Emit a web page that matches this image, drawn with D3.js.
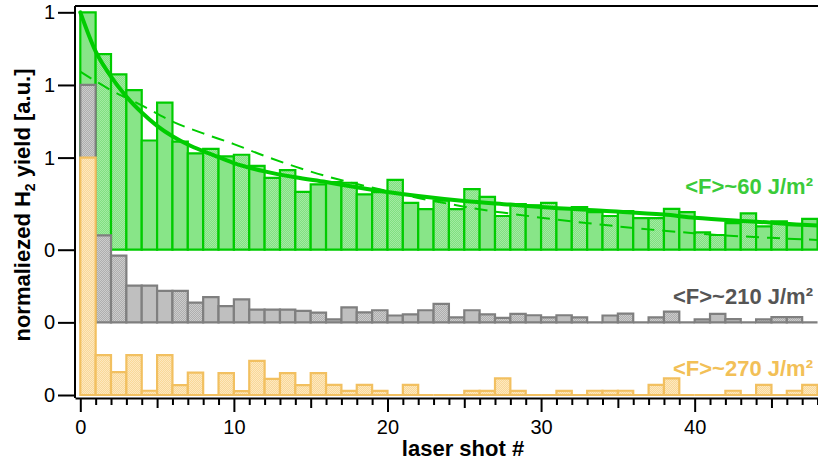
<!DOCTYPE html>
<html>
<head>
<meta charset="utf-8">
<script src="https://cdn.jsdelivr.net/npm/d3@7/dist/d3.min.js"></script>
<style>
  body { margin: 0; background: #fff; }
  svg { display: block; font-family: "Liberation Sans", Arial, sans-serif; }
</style>
</head>
<body>
<svg id="chart" width="818" height="464"></svg>
<script>
// shot numbers, one bar per shot (bar i spans i..i+1)
const shots = d3.range(0, 48);

// normalized H2 yield per shot
const yield60 = [1.0, 0.824, 0.739, 0.672, 0.46, 0.62, 0.455, 0.406, 0.425, 0.393,
  0.40, 0.353, 0.303, 0.335, 0.244, 0.275, 0.285, 0.282, 0.233, 0.243,
  0.294, 0.197, 0.171, 0.207, 0.171, 0.255, 0.223, 0.142, 0.192, 0.187,
  0.197, 0.172, 0.18, 0.158, 0.142, 0.163, 0.133, 0.133, 0.172, 0.158,
  0.073, 0.062, 0.112, 0.153, 0.098, 0.12, 0.103, 0.13];

const yield210 = [1.0, 0.366, 0.281, 0.155, 0.155, 0.133, 0.133, 0.083, 0.106, 0.068,
  0.097, 0.054, 0.054, 0.054, 0.048, 0.041, 0.013, 0.063, 0.042, 0.051,
  0.029, 0.034, 0.051, 0.078, 0.021, 0.051, 0.034, 0.019, 0.036, 0.03,
  0.021, 0.03, 0.021, 0, 0.029, 0.037, 0, 0.021, 0.045, 0,
  0.013, 0.036, 0.014, 0, 0.013, 0.022, 0.022, 0];

const yield270 = [1.0, 0.168, 0.096, 0.168, 0.018, 0.168, 0.042, 0.094, 0, 0.092,
  0.016, 0.144, 0.068, 0.092, 0.042, 0.092, 0.043, 0.017, 0.043, 0.017,
  0, 0.043, 0, 0, 0, 0.017, 0.017, 0.07, 0.017, 0,
  0, 0.017, 0, 0.018, 0.018, 0.018, 0, 0.043, 0.07, 0,
  0, 0, 0.018, 0, 0.043, 0, 0.018, 0.043];

// fit curves for the 60 J/m2 data, sampled from the figure
const fitSolidShot = [0, 1, 2, 3, 4, 5, 6, 7, 8, 9, 10, 12, 14, 16, 18, 20, 22, 25, 28, 30, 34, 38, 40, 44, 47, 48];
const fitSolidVal  = [1.0, 0.835, 0.729, 0.645, 0.578, 0.522, 0.478, 0.443, 0.415, 0.39, 0.365, 0.33, 0.305, 0.285,
  0.263, 0.243, 0.226, 0.205, 0.19, 0.18, 0.164, 0.148, 0.135, 0.118, 0.105, 0.102];

const fitDashShot = [0, 1, 2, 4, 6, 8, 10, 12, 14, 16, 18, 20, 22, 24, 26, 28, 30, 34, 38, 42, 45, 48];
const fitDashVal  = [0.75, 0.71, 0.672, 0.608, 0.54, 0.49, 0.445, 0.395, 0.35, 0.31, 0.277, 0.247, 0.218, 0.193,
  0.17, 0.152, 0.135, 0.105, 0.08, 0.06, 0.05, 0.041];

const seriesLabels = ["<F>~60 J/m\u00b2", "<F>~210 J/m\u00b2", "<F>~270 J/m\u00b2"];
const yTickLabels = ["0", "1"];
const xTickLabels = [0, 10, 20, 30, 40];

// which bars are drawn with the dotted fill (style only)
const dotted60 = [1, 2, 8, 10, 12, 13, 14, 17, 19, 20, 23, 24, 25, 27, 28, 30, 32, 34, 37, 40, 41, 43, 45];
const dotted210 = [0, 1, 2, 6, 7, 15, 18, 19, 23, 24, 26, 27, 28, 30, 32, 35, 37, 38, 44, 45, 46];


const margin = {top: 6, right: 0, bottom: 66, left: 75};
const svg = d3.select("#chart");
const width = +svg.attr("width") - margin.left - margin.right;
const height = +svg.attr("height") - margin.top - margin.bottom;

const x = d3.scaleLinear().domain([-0.345, 48.03]).range([0, width]);
const y = d3.scaleLinear().domain([-0.0126, 1.6386]).range([height, 0]);

const series = [
  {values: yield60, offset: 0.612, stroke: "#00cc00", fill: "#88e588", dotA: "#a2eba2", dotB: "#80e080", dotted: dotted60, labelColor: "#3acb3a", labelY: 194},
  {values: yield210, offset: 0.306, stroke: "#7f7f7f", fill: "#bfbfbf", dotA: "#cccccc", dotB: "#aeaeae", dotted: dotted210, labelColor: "#555555", labelY: 304},
  {values: yield270, offset: 0, stroke: "#f2c060", fill: "#fbe0aa", dotA: "#fde8c0", dotB: "#f9d898", dotted: shots, labelColor: "#f2c057", labelY: 376}
];

const defs = svg.append("defs");
series.forEach((s, k) => {
  const p = defs.append("pattern").attr("id", "dot" + k)
    .attr("width", 2).attr("height", 2).attr("patternUnits", "userSpaceOnUse");
  p.append("rect").attr("width", 2).attr("height", 2).attr("fill", s.dotA);
  p.append("rect").attr("width", 1).attr("height", 1).attr("fill", s.dotB);
  p.append("rect").attr("x", 1).attr("y", 1).attr("width", 1).attr("height", 1).attr("fill", s.dotB);
});

const g = svg.append("g").attr("transform", "translate(" + margin.left + "," + margin.top + ")");

function barPath(i, v, off) {
  const x0 = x(i), x1 = x(i + 1), y0 = y(off), y1 = y(off + v);
  return "M" + x0 + "," + y0 + "V" + y1 + "H" + x1 + "V" + y0 + "Z";
}

function drawBars(s, k) {
  g.append("g")
   .attr("class", "serie")
   .selectAll("path")
   .data(shots)
   .enter().append("path")
   .attr("d", i => barPath(i, s.values[i], s.offset))
   .attr("fill", i => s.dotted.includes(i) ? "url(#dot" + k + ")" : s.fill)
   .attr("stroke", s.stroke)
   .attr("stroke-width", 2.2)
   .attr("stroke-linejoin", "miter");
}

// green first, then its fits, then grey and orange on top
drawBars(series[0], 0);

const fitLine = d3.line()
  .x(d => x(d[0]))
  .y(d => y(series[0].offset + d[1]))
  .curve(d3.curveMonotoneX);

g.append("path")
 .datum(fitDashShot.map((s, i) => [s, fitDashVal[i]]))
 .attr("d", fitLine)
 .attr("fill", "none")
 .attr("stroke", "#00cc00")
 .attr("stroke-width", 2)
 .attr("stroke-dasharray", "13,8");

g.append("path")
 .datum(fitSolidShot.map((s, i) => [s, fitSolidVal[i]]))
 .attr("d", fitLine)
 .attr("fill", "none")
 .attr("stroke", "#00cc00")
 .attr("stroke-width", 4)
 .attr("stroke-linecap", "round");

drawBars(series[1], 1);
drawBars(series[2], 2);

// series labels
series.forEach((s, k) => {
  svg.append("text")
     .attr("x", 813)
     .attr("y", s.labelY)
     .attr("text-anchor", "end")
     .attr("fill", s.labelColor)
     .style("font-size", "22px")
     .style("font-weight", "bold")
     .text(seriesLabels[k]);
});

// frame line on top
g.append("line")
 .attr("x1", 0).attr("x2", width)
 .attr("y1", 0).attr("y2", 0)
 .attr("stroke", "#000").attr("stroke-width", 2);

// y axis: a 0 and a 1 for each offset series
const yTicks = [];
const yTickText = [];
series.forEach(s => {
  yTicks.push(s.offset, s.offset + 1);
  yTickText.push(yTickLabels[0], yTickLabels[1]);
});

const yAxis = g.append("g")
  .attr("class", "axis axis--y")
  .call(d3.axisLeft(y)
    .tickValues(yTicks)
    .tickFormat((d, i) => yTickText[i])
    .tickSize(17)
    .tickSizeOuter(0)
    .tickPadding(3));

// x axis with minor ticks at every shot
const xAxis = g.append("g")
  .attr("class", "axis axis--x")
  .attr("transform", "translate(0," + height + ")")
  .call(d3.axisBottom(x)
    .tickValues(d3.range(0, 49))
    .tickFormat(d => xTickLabels.includes(d) ? d : "")
    .tickSizeOuter(0));

xAxis.selectAll(".tick line")
  .attr("y2", d => d % 10 === 0 ? 14 : (d % 5 === 0 ? 10 : 7));
xAxis.selectAll(".tick text").attr("y", 22);

[yAxis, xAxis].forEach(a => {
  a.select(".domain").attr("stroke", "#000").attr("stroke-width", 2);
  a.selectAll(".tick line").attr("stroke", "#000").attr("stroke-width", 2);
  a.selectAll(".tick text")
   .attr("fill", "#000")
   .style("font-size", "20px")
   .style("font-family", '"Liberation Sans", Arial, sans-serif');
});

yAxis.select(".domain").attr("d", "M0," + height + "V0");

// axis titles
svg.append("text")
   .attr("x", 463)
   .attr("y", 456)
   .attr("text-anchor", "middle")
   .style("font-size", "22px")
   .style("font-weight", "bold")
   .text("laser shot #");

const yl = svg.append("text")
  .attr("transform", "translate(30,205) rotate(-90)")
  .attr("text-anchor", "middle")
  .style("font-size", "22px")
  .style("font-weight", "bold");
yl.append("tspan").text("normaliezed H");
yl.append("tspan").attr("dy", 5).style("font-size", "14px").text("2");
yl.append("tspan").attr("dy", -5).text(" yield [a.u.]");
</script>
</body>
</html>
